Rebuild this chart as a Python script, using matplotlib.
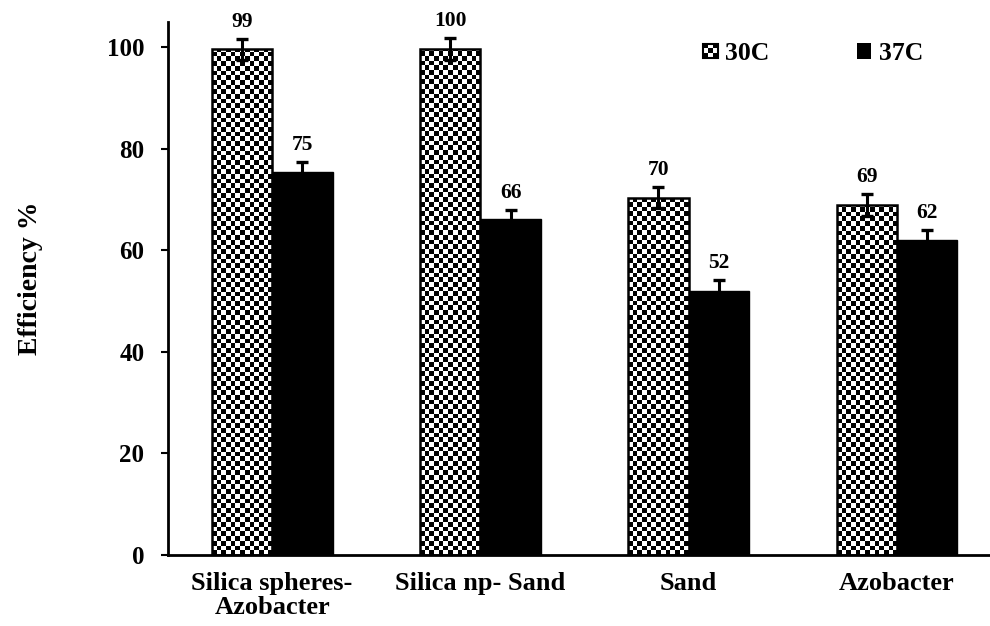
import numpy as np
import matplotlib.pyplot as plt
from matplotlib.patches import Rectangle
from matplotlib.legend_handler import HandlerBase

categories = ["Silica spheres-\nAzobacter", "Silica np- Sand", "Sand", "Azobacter"]
eff_30 = [99.6, 99.7, 70.4, 68.9]
eff_37 = [75.4, 66.1, 52.1, 62.0]
err_30 = [2.1, 2.2, 2.1, 2.2]
err_37 = [2.1, 1.9, 2.0, 2.0]
labels_30 = ["99", "100", "70", "69"]
labels_37 = ["75", "66", "52", "62"]


class CheckerHandler(HandlerBase):
    """small 3x3 checker square for the legend"""
    def create_artists(self, legend, orig_handle, xdescent, ydescent,
                       width, height, fontsize, trans):
        s = min(width, height)
        x0 = -xdescent + (width - s) / 2
        y0 = -ydescent + (height - s) / 2
        arts = [Rectangle((x0, y0), s, s, facecolor='white', edgecolor='black',
                          linewidth=1.5, transform=trans)]
        c = s / 3
        for i in range(3):
            for j in range(3):
                if (i + j) % 2 == 0:
                    arts.append(Rectangle((x0 + i * c, y0 + j * c), c, c,
                                          facecolor='black', edgecolor='none',
                                          transform=trans))
        return arts


plt.rcParams['font.family'] = 'Liberation Serif'
plt.rcParams['font.weight'] = 'bold'

fig = plt.figure(figsize=(9.9, 6.26), dpi=100)
ax = fig.add_axes([0.1697, 0.1134, 0.8303, 0.8515])

x = np.arange(len(categories))
w = 0.29

ax.set_xlim(-0.5, 3.447)
ax.set_ylim(0, 105)

bars30 = ax.bar(x - w / 2, eff_30, w, facecolor='none', edgecolor='black',
                linewidth=1.8, zorder=3)
bars37 = ax.bar(x + w / 2, eff_37, w, color='black', edgecolor='black', zorder=3)

# checkerboard fill for the 30C bars
ax_w_px = fig.get_figwidth() * fig.dpi * 0.8303
ax_h_px = fig.get_figheight() * fig.dpi * 0.8515
px_x = ax_w_px / (3.447 + 0.5)
px_y = ax_h_px / 105
cell = 4.7
for b in bars30:
    bx, bw, bh = b.get_x(), b.get_width(), b.get_height()
    nx = int(round(bw * px_x / cell))
    ny = int(np.ceil(bh * px_y / cell))
    grid = np.indices((ny, nx)).sum(axis=0) % 2
    im = ax.imshow(grid, cmap='gray', interpolation='nearest', origin='lower',
                   extent=(bx, bx + bw, 0, ny * cell / px_y), aspect='auto',
                   zorder=2)
    im.set_clip_path(b)

ax.set_xlim(-0.5, 3.447)
ax.set_ylim(0, 105)

ax.errorbar(x - w / 2, eff_30, yerr=err_30, fmt='none', ecolor='black',
            elinewidth=2.2, capsize=4.3, capthick=2.4, zorder=4)
ax.errorbar(x + w / 2, eff_37, yerr=err_37, fmt='none', ecolor='black',
            elinewidth=2.2, capsize=4.3, capthick=2.4, zorder=4)

for xi, v, e, t in zip(x - w / 2, eff_30, err_30, labels_30):
    ax.annotate(t, (xi, v + e), xytext=(0, 5), textcoords='offset points',
                ha='center', va='bottom', fontsize=15.5, fontweight='bold')
for xi, v, e, t in zip(x + w / 2, eff_37, err_37, labels_37):
    ax.annotate(t, (xi, v + e), xytext=(0, 5), textcoords='offset points',
                ha='center', va='bottom', fontsize=15.5, fontweight='bold')

ax.set_yticks([0, 20, 40, 60, 80, 100])
ax.set_xticks(x)
ax.set_xticklabels(categories, fontsize=19, fontweight='bold', linespacing=1.1)
ax.tick_params(axis='x', length=0, pad=12)
ax.tick_params(axis='y', labelsize=18, length=5, width=1.5, pad=12)
ax.set_ylabel("Efficiency %", fontsize=20, fontweight='bold')
ax.yaxis.set_label_coords(-0.152, 0.52)

ax.spines['top'].set_visible(False)
ax.spines['right'].set_visible(False)
ax.spines['left'].set_linewidth(2)
ax.spines['bottom'].set_linewidth(2)

h30 = Rectangle((0, 0), 1, 1)
h37 = Rectangle((0, 0), 1, 1, facecolor='black')
ax.legend([h30, h37], ["30C", "37C"], handler_map={h30: CheckerHandler()},
          ncol=2, frameon=False, fontsize=18.5, handlelength=0.55,
          handleheight=0.55, handletextpad=0.3, columnspacing=3.4,
          loc='center', bbox_to_anchor=(0.785, 0.941))

plt.savefig("out.png", dpi=100)
